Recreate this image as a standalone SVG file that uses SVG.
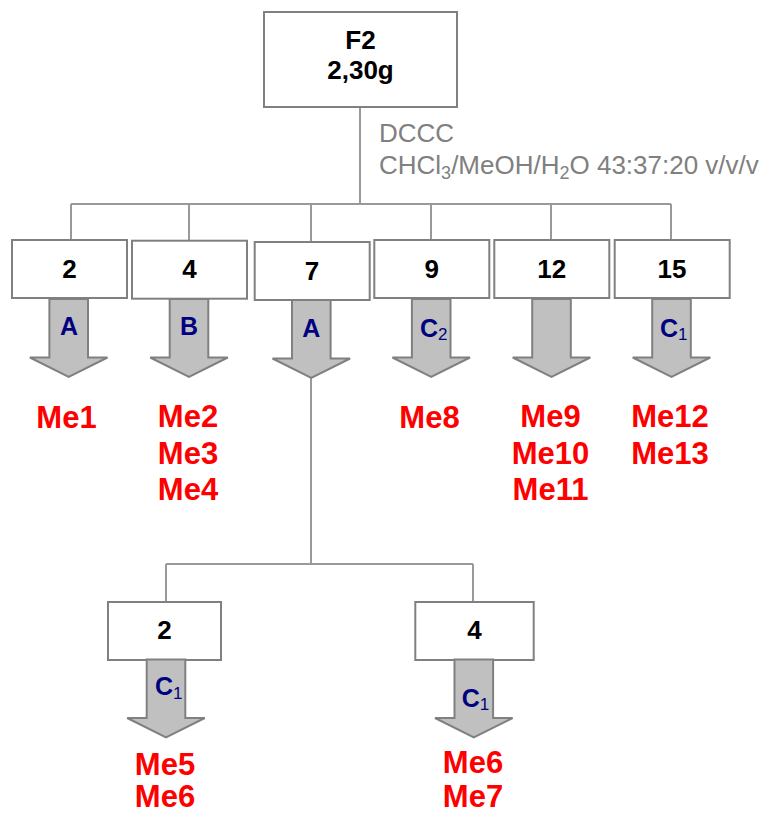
<svg xmlns="http://www.w3.org/2000/svg" xmlns:xlink="http://www.w3.org/1999/xlink" width="768" height="814" viewBox="0 0 768 814">
  <style>
    .box { fill: #ffffff; stroke: #808080; stroke-width: 2; }
    .link { fill: none; stroke: #999999; stroke-width: 2; }
    .arrow { fill: #c0c0c0; stroke: #808080; stroke-width: 2; stroke-linejoin: miter; }
    .num { font-family: "Liberation Sans", Arial, sans-serif; font-weight: bold; font-size: 26px; fill: #000000; text-anchor: middle; }
    .lab { font-family: "Liberation Sans", Arial, sans-serif; font-weight: bold; font-size: 25px; fill: #000080; }
    .sub { font-size: 17px; font-weight: normal; }
    .cmp { font-family: "Liberation Sans", Arial, sans-serif; font-weight: bold; font-size: 31px; fill: #ff0000; text-anchor: middle; }
    .note { font-family: "Liberation Sans", Arial, sans-serif; font-size: 26px; fill: #808080; }
    .nsub { font-size: 18px; }
  </style>
  <defs>
    <!-- block arrow pointing down, origin at top centre of the shaft -->
    <path id="down" class="arrow" d="M-19.3,0 H19.3 V58.5 H38.8 L0,78 L-38.8,58.5 H-19.3 Z"/>
  </defs>

  <!-- connectors -->
  <g id="connectors">
    <path class="link" d="M360,107 V204 M71,204 H671 M71,204 V240 M189,204 V240.7 M311,204 V242 M431,204 V240 M551,204 V240 M671,204 V240"/>
    <path class="link" d="M311,377 V564 M166,564 H473 M166,564 V602 M473,564 V602"/>
  </g>

  <!-- root fraction -->
  <g id="F2">
    <rect class="box" x="264" y="12" width="193" height="95"/>
    <text class="num" x="360.5" y="48.5">F2</text>
    <text class="num" x="360.5" y="79">2,30g</text>
  </g>

  <g id="method">
    <text class="note" x="379" y="141.5">DCCC</text>
    <text class="note" x="379" y="174">CHCl<tspan class="nsub" dy="5">3</tspan><tspan dy="-5">/MeOH/H</tspan><tspan class="nsub" dy="5">2</tspan><tspan dy="-5">O 43:37:20 v/v/v</tspan></text>
  </g>

  <!-- DCCC fractions -->
  <g id="frac2">
    <rect class="box" x="12" y="240" width="115" height="58"/>
    <text class="num" x="69.5" y="277.5">2</text>
    <use xlink:href="#down" x="68.7" y="299"/>
    <text class="lab" x="69" y="335" text-anchor="middle">A</text>
    <text class="cmp" x="66.5" y="428">Me1</text>
  </g>

  <g id="frac4">
    <rect class="box" x="132" y="240.7" width="115" height="58"/>
    <text class="num" x="189.5" y="278">4</text>
    <use xlink:href="#down" x="189" y="299"/>
    <text class="lab" x="189" y="335" text-anchor="middle">B</text>
    <text class="cmp" x="188" y="427">Me2</text>
    <text class="cmp" x="188" y="463.5">Me3</text>
    <text class="cmp" x="188" y="500">Me4</text>
  </g>

  <g id="frac7">
    <rect class="box" x="254.7" y="242" width="115" height="58"/>
    <text class="num" x="312" y="279.5">7</text>
    <use xlink:href="#down" x="311.3" y="300"/>
    <text class="lab" x="311.3" y="336.5" text-anchor="middle">A</text>
  </g>

  <g id="frac9">
    <rect class="box" x="374.3" y="240" width="115" height="58"/>
    <text class="num" x="431.7" y="277.5">9</text>
    <use xlink:href="#down" x="431.2" y="299"/>
    <text class="lab" x="420" y="336.5">C<tspan class="sub" dy="3.5">2</tspan></text>
    <text class="cmp" x="429.5" y="428">Me8</text>
  </g>

  <g id="frac12">
    <rect class="box" x="494.3" y="240" width="115" height="58"/>
    <text class="num" x="551.8" y="277.5">12</text>
    <use xlink:href="#down" x="551.5" y="299"/>
    <text class="cmp" x="550.5" y="427">Me9</text>
    <text class="cmp" x="550.5" y="463.5">Me10</text>
    <text class="cmp" x="550.5" y="500">Me11</text>
  </g>

  <g id="frac15">
    <rect class="box" x="614.7" y="240" width="115" height="58"/>
    <text class="num" x="672" y="277.5">15</text>
    <use xlink:href="#down" x="671.5" y="299"/>
    <text class="lab" x="660" y="336.5">C<tspan class="sub" dy="3.5">1</tspan></text>
    <text class="cmp" x="670" y="427">Me12</text>
    <text class="cmp" x="670" y="463.5">Me13</text>
  </g>

  <!-- sub-fractions of fraction 7 -->
  <g id="frac7-2">
    <rect class="box" x="108" y="602" width="113" height="58"/>
    <text class="num" x="164.5" y="638.5">2</text>
    <use xlink:href="#down" x="166" y="659.5"/>
    <text class="lab" x="155" y="695">C<tspan class="sub" dy="3.5">1</tspan></text>
    <text class="cmp" x="165" y="775">Me5</text>
    <text class="cmp" x="165" y="807">Me6</text>
  </g>

  <g id="frac7-4">
    <rect class="box" x="415.3" y="602" width="118.4" height="58"/>
    <text class="num" x="474.5" y="638.5">4</text>
    <use xlink:href="#down" x="473.8" y="659.5"/>
    <text class="lab" x="461.7" y="706.5">C<tspan class="sub" dy="3.5">1</tspan></text>
    <text class="cmp" x="473" y="772.5">Me6</text>
    <text class="cmp" x="473" y="806.5">Me7</text>
  </g>
</svg>
